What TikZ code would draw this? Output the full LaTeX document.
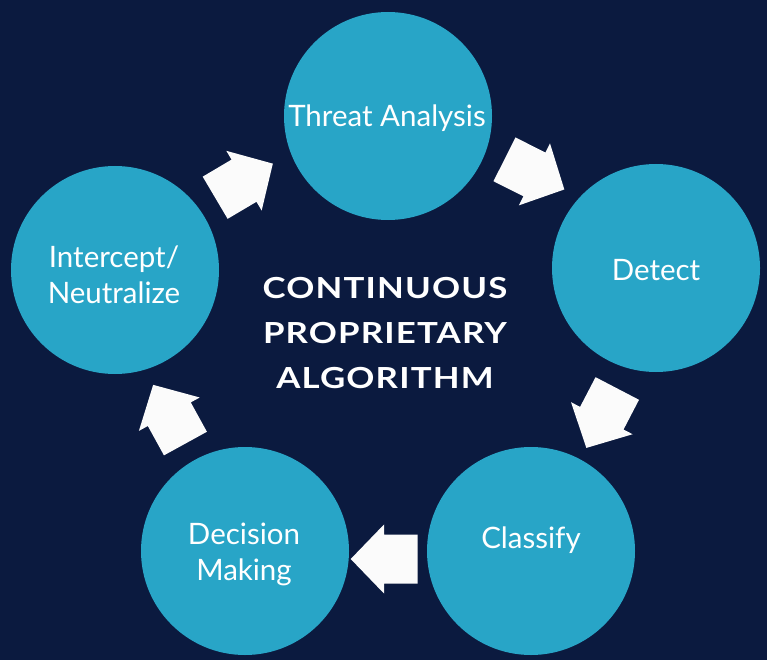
\documentclass[tikz,border=0pt]{standalone}
\usepackage{fontspec}
\setmainfont{Lato}
\newfontfamily\centerfont[LetterSpace=4,FakeStretch=1.2]{Lato}
\definecolor{bgnavy}{HTML}{0B1A3F}
\definecolor{stagecol}{HTML}{28A5C7}
\definecolor{arrowcol}{HTML}{FBFBFB}
\begin{document}
\begin{tikzpicture}[x=1pt,y=-1pt,
  stage/.style={circle, fill=stagecol, minimum size=208pt, inner sep=0pt},
  lbl/.style={text=white, font=\fontsize{29.5}{36}\selectfont, align=center, inner sep=0pt},
  blockarrow/.pic={\fill[arrowcol] (-33.5,-24.5) -- (0,-24.5) -- (0,-34.7) -- (33.5,0) -- (0,34.7) -- (0,24.5) -- (-33.5,24.5) -- cycle;}]
\fill[bgnavy] (0,0) rectangle (767,660);
\useasboundingbox (0,0) rectangle (767,660);
% stages
\node[stage] (ta) at (388,116) {};
\node[stage] (de) at (656,268) {};
\node[stage] (cl) at (531,551) {};
\node[stage] (dm) at (245,551) {};
\node[stage] (in) at (115,270) {};
% labels
\node[lbl] (tal) at (387,118) {Threat Analysis};
\node[lbl] (del) at (656,270) {Detect};
\node[lbl] (cll) at (531,540) {Classify};
\node[lbl] (dml) at (244,554) {Decision\\Making};
\node[lbl] (inl) at (114,275) {Intercept/\\Neutralize};
% arrows
\pic[rotate=30.6] (a1) at (244,180.7) {blockarrow};
\pic[rotate=-26.7] (a2) at (534.4,174.4) {blockarrow};
\pic[rotate=-117.5] (a3) at (601.8,418.2) {blockarrow};
\pic[rotate=180] (a4) at (384.2,559) {blockarrow};
\pic[rotate=118.8] (a5) at (169.3,414.2) {blockarrow};
% centre text
\node[text=white, align=center, inner sep=0pt, font=\centerfont\bfseries\fontsize{29}{45}\selectfont] (ct) at (385,333) {CONTINUOUS\\PROPRIETARY\\ALGORITHM};
\end{tikzpicture}
\end{document}
